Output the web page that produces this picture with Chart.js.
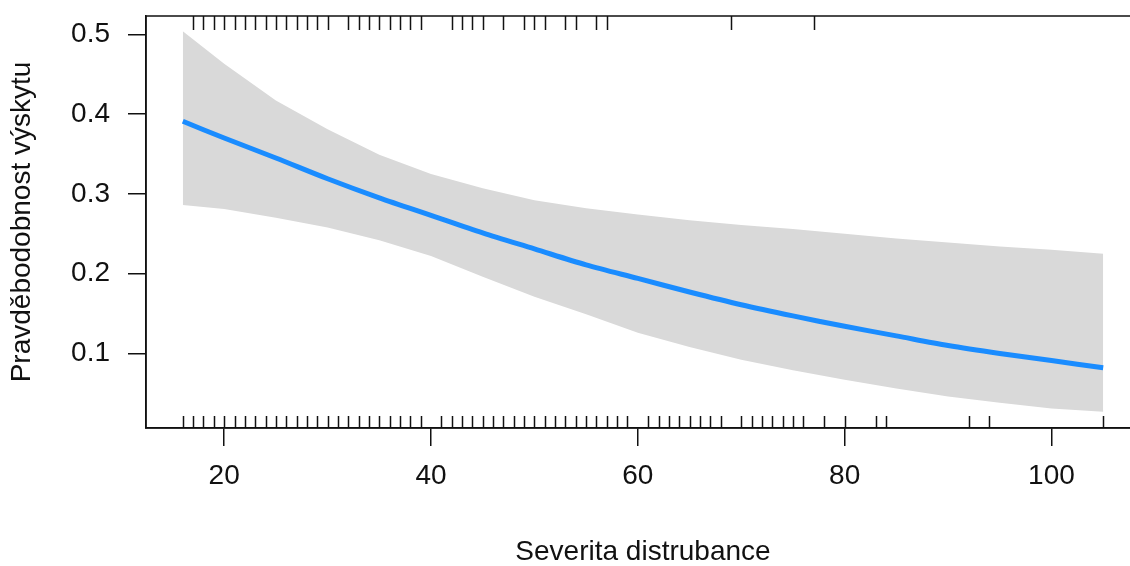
<!DOCTYPE html>
<html>
<head>
<meta charset="utf-8">
<script src="https://cdn.jsdelivr.net/npm/chart.js@4/dist/chart.umd.min.js"></script>
<style>
  html, body { margin: 0; padding: 0; background: #fff; overflow: hidden; }
  #wrap { width: 1150px; height: 566px; }
</style>
</head>
<body>
<div id="wrap"><canvas id="effChart"></canvas></div>
<script>
const severity = [16, 20, 25, 30, 35, 40, 45, 50, 55, 60, 65, 70, 75, 80, 85, 90, 95, 100, 105];
const fitted   = [0.391, 0.370, 0.345, 0.319, 0.295, 0.273, 0.251, 0.231, 0.211, 0.194, 0.177, 0.161, 0.147, 0.134, 0.122, 0.110, 0.100, 0.091, 0.082];
const upperCI  = [0.504, 0.463, 0.417, 0.381, 0.349, 0.325, 0.307, 0.292, 0.282, 0.274, 0.267, 0.261, 0.256, 0.250, 0.244, 0.239, 0.234, 0.230, 0.225];
const lowerCI  = [0.286, 0.281, 0.270, 0.258, 0.242, 0.222, 0.196, 0.171, 0.149, 0.126, 0.108, 0.092, 0.079, 0.067, 0.056, 0.046, 0.038, 0.031, 0.027];

// rug: observed severities (top = present, bottom = absent)
const rugTop = [17, 18, 19, 20, 21, 22, 23, 24, 25, 26, 27, 28, 29, 30, 32, 33, 34, 35, 36, 37, 38, 39,
  42, 43, 44, 45, 47, 49, 50, 51, 53, 54, 56, 57, 69, 77];
const rugBottom = [16, 17, 18, 19, 20, 21, 22, 23, 24, 25, 26, 27, 28, 29, 30, 31, 32, 33, 34, 35, 36, 37, 38, 39,
  41, 42, 43, 44, 45, 46, 47, 48, 49, 50, 51, 52, 53, 54, 55, 56, 57, 58, 59,
  61, 62, 63, 64, 65, 66, 67, 68, 70, 71, 72, 73, 74, 75, 76, 78, 80, 83, 84, 92, 94, 105];

const xTicks = [20, 40, 60, 80, 100];
const yTicks = [0.1, 0.2, 0.3, 0.4, 0.5];
const yTickLabels = ["0.1", "0.2", "0.3", "0.4", "0.5"];

const xTitle = "Severita distrubance";
const yTitle = "Pravděbodobnost výskytu";

const FONT = "'Liberation Sans', Arial, sans-serif";
const INK = "#111";

function pts(ys) {
  return severity.map((x, i) => ({ x: x, y: ys[i] }));
}

// frame + rug marks
const rugPlugin = {
  id: "rug",
  afterDatasetsDraw(chart) {
    const ctx = chart.ctx;
    const a = chart.chartArea;
    const xs = chart.scales.x;
    ctx.save();
    ctx.strokeStyle = INK;
    ctx.lineWidth = 1.5;
    ctx.beginPath();
    rugBottom.forEach(v => {
      const px = Math.round(xs.getPixelForValue(v)) + 0.5;
      ctx.moveTo(px, a.bottom);
      ctx.lineTo(px, a.bottom - 12);
    });
    rugTop.forEach(v => {
      const px = Math.round(xs.getPixelForValue(v)) + 0.5;
      ctx.moveTo(px, a.top);
      ctx.lineTo(px, a.top + 14);
    });
    ctx.stroke();
    ctx.strokeRect(a.left, a.top, a.right - a.left, a.bottom - a.top);
    ctx.restore();
  }
};

const ctx = document.getElementById("effChart").getContext("2d");
new Chart(ctx, {
  type: "line",
  data: {
    datasets: [
      {
        label: "lower",
        data: pts(lowerCI),
        borderWidth: 0,
        borderColor: "rgba(0,0,0,0)",
        pointRadius: 0,
        fill: false,
        order: 2
      },
      {
        label: "upper",
        data: pts(upperCI),
        borderWidth: 0,
        borderColor: "rgba(0,0,0,0)",
        backgroundColor: "#d9d9d9",
        pointRadius: 0,
        fill: "-1",
        order: 1
      },
      {
        label: "fit",
        data: pts(fitted),
        borderColor: "#1a8cff",
        borderWidth: 5,
        pointRadius: 0,
        tension: 0.3,
        fill: false,
        order: 0
      }
    ]
  },
  options: {
    responsive: true,
    maintainAspectRatio: false,
    devicePixelRatio: 1,
    animation: false,
    layout: { padding: { top: 16, right: 10, left: 0, bottom: 0 } },
    plugins: {
      legend: { display: false },
      tooltip: { enabled: false }
    },
    scales: {
      x: {
        type: "linear",
        min: 12.44,
        max: 108.56,
        afterFit: s => { s.height = 138; s.paddingLeft = 0; s.paddingRight = 0; },
        afterBuildTicks: s => { s.ticks = xTicks.map(v => ({ value: v })); },
        grid: { drawOnChartArea: false, drawTicks: true, tickLength: 18, color: INK, lineWidth: 1.5 },
        border: { display: true, color: INK, width: 1.5 },
        ticks: { color: INK, font: { family: FONT, size: 28 }, padding: 13, maxRotation: 0 },
        title: { display: true, text: xTitle, color: INK, font: { family: FONT, size: 28, lineHeight: 1 }, padding: { top: 0, bottom: 0 } }
      },
      y: {
        type: "linear",
        min: 0.0065,
        max: 0.523,
        afterFit: s => { s.width = 146; s.paddingTop = 0; s.paddingBottom = 0; },
        afterBuildTicks: s => { s.ticks = yTicks.map(v => ({ value: v })); },
        grid: { drawOnChartArea: false, drawTicks: true, tickLength: 18, color: INK, lineWidth: 1.5 },
        border: { display: true, color: INK, width: 1.5 },
        ticks: {
          color: INK,
          font: { family: FONT, size: 28 },
          padding: 18,
          callback: (v, i) => yTickLabels[i]
        },
        title: { display: true, text: yTitle, color: INK, font: { family: FONT, size: 28 }, padding: { top: 5, bottom: 0 } }
      }
    }
  },
  plugins: [rugPlugin]
});
</script>
</body>
</html>
